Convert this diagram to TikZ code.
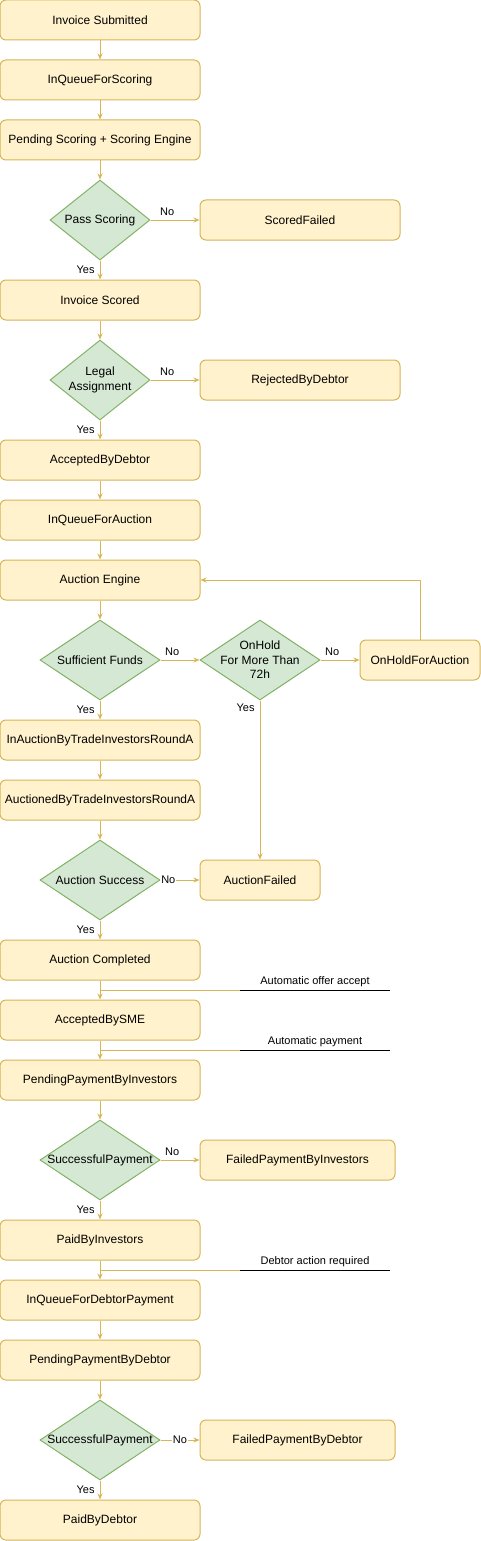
\documentclass[tikz,border=0pt]{standalone}
\usepackage{fontspec}
\setmainfont{Liberation Sans}
\usetikzlibrary{shapes.geometric,arrows.meta}
\definecolor{boxfill}{HTML}{FFF2CC}
\definecolor{boxline}{HTML}{D6B656}
\definecolor{decfill}{HTML}{D5E8D4}
\definecolor{decline}{HTML}{82B366}
\tikzset{
  state/.style={draw=boxline, fill=boxfill, line width=1pt, rounded corners=6pt, minimum width=200pt, minimum height=40pt, inner sep=0pt, font=\fontsize{12}{14}\selectfont},
  decision/.style={diamond, draw=decline, fill=decfill, line width=1pt, inner sep=0pt, minimum width=120pt, minimum height=80pt, label={[align=center, inner sep=0pt, font=\fontsize{12}{14.5}\selectfont]center:#1}},
  flow/.style={draw=boxline, line width=1pt, -{Stealth[length=6pt,width=5pt]}},
  elabel/.style={font=\fontsize{11}{13}\selectfont, inner sep=1pt},
  note/.style={font=\fontsize{11}{13}\selectfont, minimum width=150pt, inner xsep=0pt, inner ysep=3pt, anchor=south}
}
\begin{document}
\begin{tikzpicture}[x=1pt,y=-1pt]
\useasboundingbox (0,0) rectangle (481,1541);

% scoring
\node (sub) at (100,20) [state] {Invoice Submitted};
\node (qscore) at (100,80) [state] {InQueueForScoring};
\node (pscore) at (100,140) [state] {Pending Scoring + Scoring Engine};
\node (pass) at (100,220) [decision={Pass Scoring}, minimum width=100pt] {};
\node (sfail) at (300,220) [state] {ScoredFailed};
\node (scored) at (100,300) [state] {Invoice Scored};
\node (legal) at (100,380) [decision={Legal\\Assignment}, minimum width=100pt] {};
\node (reject) at (300,380) [state] {RejectedByDebtor};
\node (accdebt) at (100,460) [state] {AcceptedByDebtor};

% auction
\node (qauct) at (100,520) [state] {InQueueForAuction};
\node (engine) at (100,580) [state] {Auction Engine};
\node (funds) at (100,660) [decision={Sufficient Funds}] {};
\node (onhold) at (260,660) [decision={OnHold\\For More Than\\72h}] {};
\node (hold) at (420,660) [state, minimum width=120pt] {OnHoldForAuction};
\node (inauct) at (100,740) [state] {InAuctionByTradeInvestorsRoundA};
\node (auctd) at (100,800) [state] {AuctionedByTradeInvestorsRoundA};
\node (asucc) at (100,880) [decision={Auction Success}] {};
\node (afail) at (260,880) [state, minimum width=120pt] {AuctionFailed};
\node (acomp) at (100,960) [state] {Auction Completed};

% payment
\node (accsme) at (100,1020) [state] {AcceptedBySME};
\node (ppinv) at (100,1080) [state] {PendingPaymentByInvestors};
\node (spinv) at (100,1160) [decision={SuccessfulPayment}] {};
\node (fpinv) at (297.5,1160) [state, minimum width=195pt] {FailedPaymentByInvestors};
\node (paidinv) at (100,1240) [state] {PaidByInvestors};
\node (qdebt) at (100,1300) [state] {InQueueForDebtorPayment};
\node (ppdebt) at (100,1360) [state] {PendingPaymentByDebtor};
\node (spdebt) at (100,1440) [decision={SuccessfulPayment}] {};
\node (fpdebt) at (297.5,1440) [state, minimum width=195pt] {FailedPaymentByDebtor};
\node (paiddebt) at (100,1520) [state] {PaidByDebtor};

\draw[flow] (sub) -- (qscore);
\draw[flow] (qscore) -- (pscore);
\draw[flow] (pscore) -- (pass);
\draw[flow] (pass) -- node[elabel, pos=0.34, above=3pt] {No} (sfail);
\draw[flow] (pass) -- node[elabel, left=4pt] {Yes} (scored);
\draw[flow] (scored) -- (legal);
\draw[flow] (legal) -- node[elabel, pos=0.34, above=3pt] {No} (reject);
\draw[flow] (legal) -- node[elabel, left=4pt] {Yes} (accdebt);
\draw[flow] (accdebt) -- (qauct);
\draw[flow] (qauct) -- (engine);
\draw[flow] (engine) -- (funds);
\draw[flow] (funds) -- node[elabel, pos=0.3, above=3pt] {No} (onhold);
\draw[flow] (onhold) -- node[elabel, pos=0.3, above=3pt] {No} (hold);
\draw[flow] (hold.north) |- (engine.east);
\draw[flow] (funds) -- node[elabel, left=4pt] {Yes} (inauct);
\draw[flow] (onhold.south) -- node[elabel, pos=0.045, left=4pt] {Yes} (afail.north);
\draw[flow] (inauct) -- (auctd);
\draw[flow] (auctd) -- (asucc);
\draw[flow] (asucc) -- node[elabel, pos=0.2, fill=white] {No} (afail);
\draw[flow] (asucc) -- node[elabel, left=4pt] {Yes} (acomp);
\draw[flow] (acomp) -- (accsme);
\draw[flow] (accsme) -- (ppinv);
\draw[flow] (ppinv) -- (spinv);
\draw[flow] (spinv) -- node[elabel, pos=0.3, above=3pt] {No} (fpinv);
\draw[flow] (spinv) -- node[elabel, left=4pt] {Yes} (paidinv);
\draw[flow] (paidinv) -- (qdebt);
\draw[flow] (qdebt) -- (ppdebt);
\draw[flow] (ppdebt) -- (spdebt);
\draw[flow] (spdebt) -- node[elabel, pos=0.5, fill=white] {No} (fpdebt);
\draw[flow] (spdebt) -- node[elabel, left=4pt] {Yes} (paiddebt);

% notes
\node (offer) at (315,990) [note] {Automatic offer accept};
\coordinate (o1) at (100,990);
\draw[line width=1pt] (offer.south west) -- (offer.south east);
\draw[boxline, line width=1pt] (o1) -- (offer.south west);

\node (autopay) at (315,1050) [note] {Automatic payment};
\coordinate (o2) at (100,1050);
\draw[line width=1pt] (autopay.south west) -- (autopay.south east);
\draw[boxline, line width=1pt] (o2) -- (autopay.south west);

\node (dact) at (315,1270) [note] {Debtor action required};
\coordinate (o3) at (100,1270);
\draw[line width=1pt] (dact.south west) -- (dact.south east);
\draw[boxline, line width=1pt] (o3) -- (dact.south west);

\end{tikzpicture}
\end{document}
